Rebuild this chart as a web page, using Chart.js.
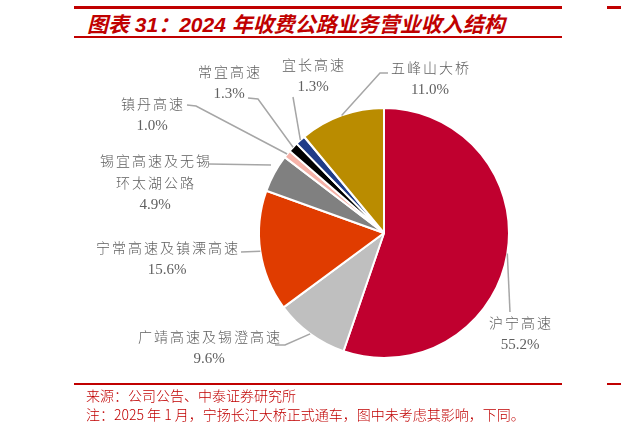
<!DOCTYPE html>
<html>
<head>
<meta charset="utf-8">
<script src="https://cdn.jsdelivr.net/npm/chart.js@4.4.1/dist/chart.umd.min.js"></script>
<style>
  body { margin: 0; background: #fff; width: 621px; height: 434px; position: relative; overflow: hidden; font-family: "Noto Sans CJK SC", sans-serif; }
  .rule { position: absolute; background: #C00000; }
  #title { position: absolute; left: 87px; top: 11px; font: italic bold 21px "Liberation Sans", "Noto Sans CJK SC", sans-serif; color: #C00000; white-space: nowrap; line-height: 28px; }
  .src { position: absolute; left: 86px; font-size: 14px; font-weight: 300; color: #C00000; white-space: nowrap; line-height: 18px; }
  canvas { position: absolute; left: 0; top: 0; }
</style>
</head>
<body>
<div class="rule" style="left:74px;top:6px;width:488px;height:3px"></div>
<div class="rule" style="left:607px;top:6px;width:14px;height:3px"></div>
<div class="rule" style="left:74px;top:36px;width:488px;height:1.5px"></div>
<div id="title">图表 31：2024 年收费公路业务营业收入结构</div>
<canvas id="pie" width="621" height="434"></canvas>
<div class="rule" style="left:74px;top:383px;width:488px;height:1.5px"></div>
<div class="rule" style="left:607px;top:383px;width:14px;height:1.5px"></div>
<div class="src" style="top:386px">来源：公司公告、中泰证券研究所</div>
<div class="src" style="top:405px">注：2025 年 1 月，宁扬长江大桥正式通车，图中未考虑其影响，下同。</div>

<script>
/* chart data, clockwise from 12 o'clock */
const categories = ['沪宁高速', '广靖高速及锡澄高速', '宁常高速及镇溧高速', '锡宜高速及无锡环太湖公路', '镇丹高速', '常宜高速', '宜长高速', '五峰山大桥'];
const shares = [55.2, 9.6, 15.6, 4.9, 1.0, 1.3, 1.3, 11.0];
const sliceColors = ['#C0002F', '#BFBFBF', '#E03C00', '#808080', '#F6B2A8', '#000000', '#1F3C88', '#BA8C00'];

/* label placement: text lines, text centre, elbow points of the leader */
const labelLayout = [
  { lines: ['沪宁高速'], x: 520, y: 323, elbow: [[510, 312]] },
  { lines: ['广靖高速及锡澄高速'], x: 209, y: 337, elbow: [[275, 345], [285, 345]] },
  { lines: ['宁常高速及镇溧高速'], x: 167, y: 248, elbow: [[241, 252]] },
  { lines: ['锡宜高速及无锡', '环太湖公路'], x: 155, y: 161, elbow: [[209, 164], [271, 165]], endsOnRim: true },
  { lines: ['镇丹高速'], x: 152, y: 104, elbow: [[187, 105], [196, 106]] },
  { lines: ['常宜高速'], x: 229, y: 72, elbow: [[248, 98], [258, 99]] },
  { lines: ['宜长高速'], x: 313, y: 65, elbow: [[293, 97]] },
  { lines: ['五峰山大桥'], x: 430, y: 68, elbow: [[388, 73], [380, 73]] },
];

const LINE_H = 22;

/* Leader lines and two-line labels next to every slice */
const leaderPlugin = {
  id: 'leaders',
  afterDatasetsDraw(chart) {
    const ctx = chart.ctx;
    const arcs = chart.getDatasetMeta(0).data;
    ctx.save();
    arcs.forEach((arc, i) => {
      const { x, y, startAngle, endAngle, outerRadius } =
        arc.getProps(['x', 'y', 'startAngle', 'endAngle', 'outerRadius'], true);
      const mid = (startAngle + endAngle) / 2;
      const lay = labelLayout[i];

      ctx.beginPath();
      ctx.moveTo(lay.elbow[0][0], lay.elbow[0][1]);
      lay.elbow.slice(1).forEach(p => ctx.lineTo(p[0], p[1]));
      if (!lay.endsOnRim) {
        ctx.lineTo(x + Math.cos(mid) * outerRadius, y + Math.sin(mid) * outerRadius);
      }
      ctx.strokeStyle = '#A6A6A6';
      ctx.lineWidth = 1.5;
      ctx.stroke();

      ctx.fillStyle = '#606060';
      ctx.textAlign = 'center';
      ctx.textBaseline = 'middle';
      ctx.font = '300 14px "Noto Sans CJK SC", sans-serif';
      ctx.letterSpacing = '2px';
      lay.lines.forEach((t, k) => ctx.fillText(t, lay.x + 1, lay.y + k * LINE_H));
      ctx.letterSpacing = '0px';
      ctx.font = '15px "Liberation Serif", serif';
      ctx.fillText(shares[i].toFixed(1) + '%', lay.x, lay.y + lay.lines.length * LINE_H);
    });
    ctx.restore();
  },
};

new Chart(document.getElementById('pie'), {
  type: 'pie',
  data: {
    labels: categories,
    datasets: [{
      data: shares,
      backgroundColor: sliceColors,
      borderColor: '#FFFFFF',
      borderWidth: 2,
    }],
  },
  options: {
    responsive: false,
    animation: false,
    layout: { padding: { left: 258, right: 111, top: 107, bottom: 75 } },
    plugins: {
      legend: { display: false },
      tooltip: { enabled: false },
    },
  },
  plugins: [leaderPlugin],
});
</script>
</body>
</html>
